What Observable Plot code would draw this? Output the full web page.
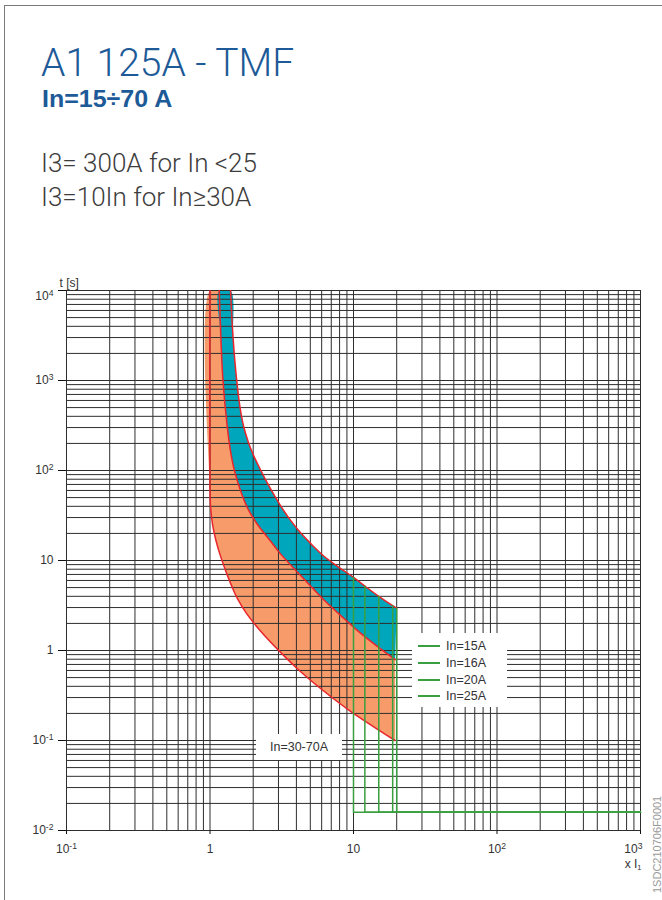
<!DOCTYPE html>
<html><head><meta charset="utf-8">
<script src="https://cdn.jsdelivr.net/npm/d3@7"></script>
<script src="https://cdn.jsdelivr.net/npm/@observablehq/plot@0.6"></script>
<style>
body{margin:0;background:#fff;}
#page{position:relative;width:662px;height:900px;overflow:hidden;background:#fff;font-family:"Liberation Sans",Arial,sans-serif;}
#frame{position:absolute;left:4px;top:5px;width:720px;height:960px;border-top:1.5px solid #7b7b7b;border-left:1.5px solid #7b7b7b;}
.title{position:absolute;left:41px;top:44px;font:300 39px/1 Roboto,sans-serif;color:#1d5a97;white-space:nowrap}
.sub{position:absolute;left:42px;top:87px;font:bold 25px/1 "Liberation Sans",Arial,sans-serif;color:#1d5a97;white-space:nowrap;transform:scaleY(0.92);transform-origin:0 50%}
.note{position:absolute;left:41px;font:300 26px/1 Roboto,sans-serif;color:#3c3c3c;white-space:nowrap}
#chart{position:absolute;left:0;top:240px}
.legend{position:absolute;left:412px;top:633px;width:95px;height:74px;background:#fff;padding-top:5px;box-sizing:border-box}
.legend .row{display:flex;align-items:center;height:16.7px;font-size:12.5px;color:#333}
.legend .sw{width:22px;height:2px;background:#3a9f3f;margin:0 6px 0 6px}
.band{position:absolute;left:256px;top:734px;width:86px;height:26px;background:#fff;font-size:12.5px;line-height:26px;text-align:center;color:#333}
.code{position:absolute;left:651px;top:893px;transform-origin:0 0;transform:rotate(-90deg);font-size:11px;line-height:12px;color:#9a9a9a;white-space:nowrap}
</style></head>
<body>
<div id="page">
  <div id="frame"></div>
  <div class="title">A1 125A - TMF</div>
  <div class="sub">In=15÷70 A</div>
  <div class="note" style="top:150px">I3= 300A for In &lt;25</div>
  <div class="note" style="top:184px">I3=10In for In≥30A</div>
  <div id="chart"></div>
  <div class="legend" id="legend"></div>
  <div class="band" id="band"></div>
  <div class="code">1SDC210706F0001</div>
</div>
<script>
// ---- data ----
const lowerX = [1.0, 1.0, 1.01, 1.04, 1.1, 1.19, 1.31, 1.46, 1.56, 1.8, 2.24, 3.08, 4.1, 6.2, 9.43, 19.5];
const lowerT = [10000, 60, 39, 25.6, 16.7, 10.9, 7.1, 4.64, 3.72, 2.57, 1.66, 0.965, 0.62, 0.355, 0.214, 0.1];

const middleX = [1.16, 1.19, 1.23, 1.32, 1.40, 1.5, 1.81, 2.12, 2.62, 3.08, 4.25, 5.25, 6.1, 8.5, 11.7, 19.5];
const middleT = [10000, 3050, 1020, 303, 153, 92, 39.4, 25.8, 16.7, 12.0, 6.9, 4.84, 3.75, 2.3, 1.47, 0.79];

const upperX = [1.39, 1.45, 1.53, 1.62, 1.71, 1.85, 2.0, 2.2, 2.4, 2.7, 3.1, 3.6, 4.2, 5.0, 6.17, 8.0, 10, 12, 15, 18.75, 20];
const upperT = [10000, 2900, 1050, 500, 316, 206, 150, 109, 83, 59, 40.7, 28.6, 21, 15.6, 11.3, 8.3, 6.5, 5.2, 4.0, 3.15, 2.95];

const instX = [10, 12, 15, 18.75, 20];          // instantaneous trip thresholds (x I1)
const instTopT = [6.5, 5.2, 4.0, 3.15, 2.95];   // where each green line leaves the upper curve
const instTripT = 0.016;                          // instantaneous trip time
const instEndX = 1000;

const legendLabels = ["In=15A", "In=16A", "In=20A", "In=25A"];
const bandLabel = "In=30-70A";

const xTickValues = [0.1, 1, 10, 100, 1000];
const xTickLabels = ["10^-1", "1", "10", "10^2", "10^3"];
const yTickValues = [0.01, 0.1, 1, 10, 100, 1000, 10000];
const yTickLabels = ["10^-2", "10^-1", "1", "10", "10^2", "10^3", "10^4"];
const xLabel = "x I_1";
const yLabel = "t [s]";
const codeText = "1SDC210706F0001";

// ---- build tables ----
const pts = (X, T) => X.map((x, i) => ({x, t: T[i]}));
const lower = pts(lowerX, lowerT);
const middle = pts(middleX, middleT);
const upper = pts(upperX, upperT);
const orangePoly = [...middle.slice().reverse(), ...lower];
const tealPoly = [...upper.slice().reverse(), ...middle];
const inst = instX.flatMap((x, i) => [
  {k: i, x, t: instTopT[i]},
  {k: i, x, t: instTripT},
  {k: i, x: instEndX, t: instTripT}
]);

const xGrid = [];
for (let e = -1; e <= 2; e++) for (let k = 1; k <= 9; k++) xGrid.push(k * Math.pow(10, e));
xGrid.push(1000);
const yGrid = [];
for (let e = -2; e <= 3; e++) for (let k = 1; k <= 9; k++) yGrid.push(k * Math.pow(10, e));
yGrid.push(10000);

const RED = "#e8262c", ORANGE = "#f79b6b", TEAL = "#00a6bb", GREEN = "#3a9f3f", GRID = "#2e2e2e";

const chart = Plot.plot({
  width: 662,
  height: 660,
  marginLeft: 66,
  marginRight: 22,
  marginTop: 50,
  marginBottom: 70,
  style: {fontFamily: '"Liberation Sans", Arial, sans-serif', fontSize: "12px", color: "#333", background: "transparent"},
  x: {type: "log", domain: [0.1, 1000], label: null},
  y: {type: "log", domain: [0.01, 10000], label: null},
  marks: [
    Plot.line(orangePoly, {x: "x", y: "t", fill: ORANGE, stroke: "none", curve: "catmull-rom", clip: true}),
    Plot.line(tealPoly, {x: "x", y: "t", fill: TEAL, stroke: "none", curve: "catmull-rom", clip: true}),
    Plot.ruleX(xGrid, {stroke: GRID, strokeWidth: 1}),
    Plot.ruleY(yGrid, {stroke: GRID, strokeWidth: 1}),
    Plot.line(lower, {x: "x", y: "t", stroke: RED, strokeWidth: 1.5, curve: "catmull-rom", clip: true}),
    Plot.line(middle, {x: "x", y: "t", stroke: RED, strokeWidth: 1.5, curve: "catmull-rom", clip: true}),
    Plot.line(upper, {x: "x", y: "t", stroke: RED, strokeWidth: 1.5, curve: "catmull-rom", clip: true}),
    Plot.line(inst, {x: "x", y: "t", z: "k", stroke: GREEN, strokeWidth: 1.5}),
    Plot.axisY(yTickValues, {tickSize: 8, tickPadding: 5, label: null, stroke: "#111",
      tickFormat: d => yTickLabels[yTickValues.indexOf(d)]}),
    Plot.axisX(xTickValues, {tickSize: 4, tickPadding: 10, label: null, stroke: "#111",
      tickFormat: d => xTickLabels[xTickValues.indexOf(d)]}),
    Plot.text([xLabel], {frameAnchor: "bottom-right", textAnchor: "end", dx: 1, dy: 37, fill: "#333"}),
    Plot.text([yLabel], {frameAnchor: "top-left", textAnchor: "start", lineAnchor: "bottom", dx: -7, dy: -4, fill: "#333"})
  ]
});
document.getElementById("chart").appendChild(chart);

// superscripts / subscripts as real text
function richify(el) {
  const s = el.textContent;
  if (s.includes("^")) {
    const [b, e] = s.split("^");
    el.innerHTML = `${b}<tspan dy="-0.45em" font-size="0.72em">${e}</tspan>`;
  } else if (s.includes("_")) {
    const [b, e] = s.split("_");
    el.innerHTML = `${b}<tspan dy="0.3em" font-size="0.62em">${e}</tspan>`;
  }
}
chart.querySelectorAll("text").forEach(richify);
const yLabs = chart.querySelectorAll('[aria-label="y-axis tick label"] text');
yLabs.forEach(t => { if (t.textContent === "104") t.setAttribute("transform", (t.getAttribute("transform")||"") + " translate(0,6)"); });
const xLabs = chart.querySelectorAll('[aria-label="x-axis tick label"] text');
if (xLabs.length) {
  xLabs[xLabs.length - 1].setAttribute("text-anchor", "end");
  xLabs[xLabs.length - 1].setAttribute("dx", "2");
}

// legend + band label
const lg = document.getElementById("legend");
legendLabels.forEach(l => {
  const r = document.createElement("div");
  r.className = "row";
  r.innerHTML = `<span class="sw"></span><span>${l}</span>`;
  lg.appendChild(r);
});
document.getElementById("band").textContent = bandLabel;
document.querySelector(".code").textContent = codeText;
</script>
</body></html>
